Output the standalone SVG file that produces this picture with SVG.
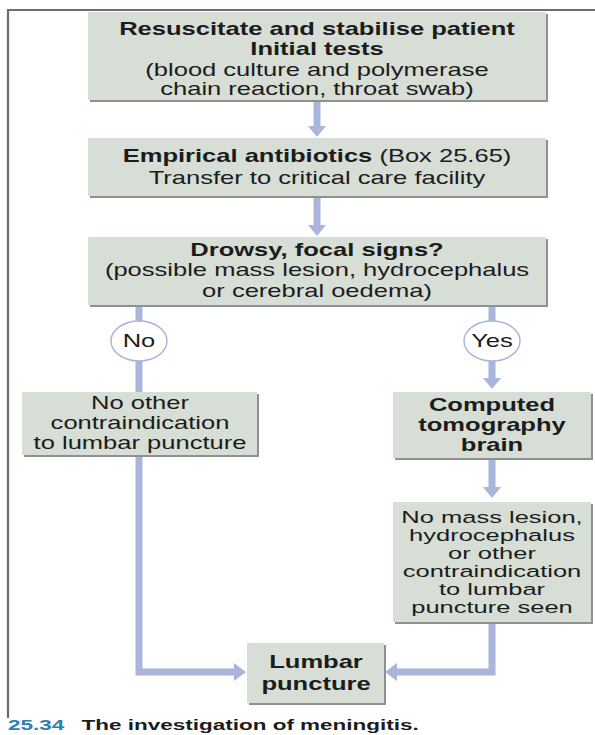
<svg xmlns="http://www.w3.org/2000/svg" width="595" height="735" viewBox="0 0 595 735">
<defs>
<style>
.box{fill:#d6ded6;}
.sh{fill:#8d918f;}
.t{font-family:"Liberation Sans",Arial,Helvetica,sans-serif;font-size:17.5px;fill:#1c1c1c;text-anchor:middle;}
.s{font-size:17px;}
.b{font-weight:bold;}
.ln{stroke:#a9b5da;stroke-width:7;fill:none;}
.ah{fill:#a9b5da;}
.ov{fill:#ffffff;stroke:#a9b5da;stroke-width:1.5;}
.cap{font-family:"Liberation Sans",Arial,Helvetica,sans-serif;font-size:15px;font-weight:bold;fill:#1c1c1c;}
</style>
</defs>
<rect width="595" height="735" fill="#ffffff"/>
<path d="M8 718 V10 H595" stroke="#6e6e6e" stroke-width="2.2" fill="none"/>

<g id="connectors">
<path class="ln" d="M317 100 V127"/>
<polygon class="ah" points="308,126 326,126 317,137"/>
<path class="ln" d="M317 196 V226"/>
<polygon class="ah" points="308,225 326,225 317,236"/>
<path class="ln" d="M139 305 V321"/>
<path class="ln" d="M139 361 V392"/>
<path class="ln" d="M492 305 V321"/>
<path class="ln" d="M492 361 V379"/>
<polygon class="ah" points="483,378 501,378 492,389"/>
<path class="ln" d="M492 458 V488"/>
<polygon class="ah" points="483,487 501,487 492,498"/>
<path class="ln" d="M139 455 V672 H235"/>
<polygon class="ah" points="234,663 234,681 246,672"/>
<path class="ln" d="M492 622 V672 H396"/>
<polygon class="ah" points="397,663 397,681 385,672"/>
</g>

<g id="n1">
<rect class="sh" x="90" y="14" width="458" height="88"/>
<rect class="box" x="88" y="12" width="458" height="88"/>
<text class="t b" transform="translate(317 35) scale(1.46 1)">Resuscitate and stabilise patient</text>
<text class="t b" transform="translate(317 55) scale(1.46 1)">Initial tests</text>
<text class="t" transform="translate(317 76) scale(1.46 1)">(blood culture and polymerase</text>
<text class="t" transform="translate(317 95) scale(1.46 1)">chain reaction, throat swab)</text>
</g>

<g id="n2">
<rect class="sh" x="90" y="140" width="458" height="58"/>
<rect class="box" x="88" y="138" width="458" height="58"/>
<text class="t" transform="translate(317 162) scale(1.46 1)"><tspan class="b">Empirical antibiotics</tspan> (Box 25.65)</text>
<text class="t" transform="translate(317 184) scale(1.46 1)">Transfer to critical care facility</text>
</g>

<g id="n3">
<rect class="sh" x="90" y="239" width="458" height="68"/>
<rect class="box" x="88" y="237" width="458" height="68"/>
<text class="t b" transform="translate(317 256) scale(1.46 1)">Drowsy, focal signs?</text>
<text class="t" transform="translate(317 276) scale(1.46 1)">(possible mass lesion, hydrocephalus</text>
<text class="t" transform="translate(317 297) scale(1.46 1)">or cerebral oedema)</text>
</g>

<g id="no">
<ellipse class="ov" cx="139" cy="341" rx="28" ry="20"/>
<text class="t" transform="translate(139 347) scale(1.46 1)">No</text>
</g>

<g id="yes">
<ellipse class="ov" cx="492" cy="341" rx="28" ry="20"/>
<text class="t" transform="translate(492 347) scale(1.46 1)">Yes</text>
</g>

<g id="n4">
<rect class="sh" x="24" y="394" width="235" height="63"/>
<rect class="box" x="22" y="392" width="235" height="63"/>
<text class="t" transform="translate(140 409) scale(1.46 1)">No other</text>
<text class="t" transform="translate(140 429) scale(1.46 1)">contraindication</text>
<text class="t" transform="translate(140 449) scale(1.46 1)">to lumbar puncture</text>
</g>

<g id="n5">
<rect class="sh" x="395" y="394" width="198" height="66"/>
<rect class="box" x="393" y="392" width="198" height="66"/>
<text class="t b" transform="translate(492 411) scale(1.46 1)">Computed</text>
<text class="t b" transform="translate(492 431) scale(1.46 1)">tomography</text>
<text class="t b" transform="translate(492 451) scale(1.46 1)">brain</text>
</g>

<g id="n6">
<rect class="sh" x="395" y="504" width="198" height="120"/>
<rect class="box" x="393" y="502" width="198" height="120"/>
<text class="t s" transform="translate(492 523) scale(1.5 1)">No mass lesion,</text>
<text class="t s" transform="translate(492 541) scale(1.5 1)">hydrocephalus</text>
<text class="t s" transform="translate(492 559) scale(1.5 1)">or other</text>
<text class="t s" transform="translate(492 577) scale(1.5 1)">contraindication</text>
<text class="t s" transform="translate(492 595) scale(1.5 1)">to lumbar</text>
<text class="t s" transform="translate(492 613) scale(1.5 1)">puncture seen</text>
</g>

<g id="n7">
<rect class="sh" x="249" y="645" width="137" height="60"/>
<rect class="box" x="247" y="643" width="137" height="60"/>
<text class="t b" transform="translate(316 668) scale(1.46 1)">Lumbar</text>
<text class="t b" transform="translate(316 690) scale(1.46 1)">puncture</text>
</g>

<text class="cap" transform="translate(8 730) scale(1.5 1)"><tspan fill="#2b80b3">25.34</tspan><tspan x="49">The investigation of meningitis.</tspan></text>
</svg>
